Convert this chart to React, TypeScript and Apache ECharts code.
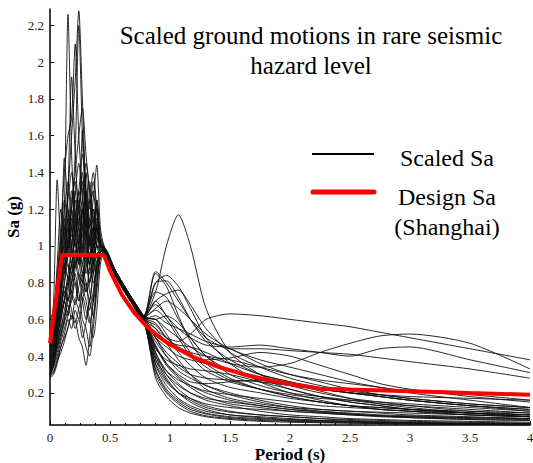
import React, { useEffect, useRef } from "react";
import * as echarts from "echarts";

const periods = [0, 0.03, 0.06, 0.09, 0.12, 0.15, 0.18, 0.21, 0.24, 0.27, 0.3, 0.33, 0.36, 0.39, 0.42, 0.45, 0.55, 0.65, 0.78, 0.88, 0.97, 1.07, 1.17, 1.3, 1.5, 1.75, 2, 2.25, 2.5, 2.75, 3, 3.5, 4];

const scaledSa: number[][] = [
  [0.3,0.38,0.55,0.8,1.2,2.26,1.5,1.1,0.9,1.2,1.0,0.8,0.9,1.1,1.0, 0.98,0.85,0.74,0.62, 0.75,1.0,1.17,1.0,0.66,0.42,0.3,0.24,0.2,0.17,0.15,0.13,0.1,0.08],
  [0.35,0.45,0.7,0.9,1.1,1.3,1.6,1.9,2.28,1.8,1.3,1.1,1.2,1.0,0.95, 0.97,0.84,0.73,0.6, 0.55,0.5,0.48,0.52,0.6,0.63,0.62,0.6,0.58,0.56,0.53,0.5,0.44,0.38],
  [0.4,0.5,0.6,0.75,1.0,1.3,1.92,1.5,1.2,1.4,1.1,0.9,1.05,1.2,1.0, 0.99,0.86,0.75,0.61, 0.6,0.55,0.5,0.45,0.4,0.36,0.34,0.36,0.42,0.47,0.51,0.52,0.47,0.33],
  [0.45,0.55,0.8,1.1,1.4,1.6,1.7,2.1,1.6,1.3,1.1,1.25,0.95,1.1,0.98, 0.96,0.83,0.72,0.6, 0.7,0.62,0.55,0.5,0.46,0.45,0.46,0.44,0.42,0.4,0.44,0.45,0.38,0.31],
  [0.5,0.7,1.36,1.0,0.85,1.2,1.0,1.3,1.1,1.63,1.2,0.9,1.0,1.2,1.0, 0.98,0.84,0.74,0.62, 0.86,0.8,0.7,0.6,0.5,0.44,0.44,0.43,0.42,0.41,0.39,0.37,0.33,0.28],
  [0.32,0.4,0.6,0.9,1.48,1.2,1.0,0.9,1.1,0.95,1.3,1.1,1.25,1.44,1.1, 1.0,0.86,0.75,0.62, 0.8,0.81,0.72,0.6,0.48,0.38,0.3,0.26,0.22,0.2,0.18,0.16,0.13,0.11],
  [0.38,0.42,0.5,0.65,0.8,1.0,1.2,1.5,2.2,1.6,1.2,1.0,0.9,1.1,1.0, 0.97,0.85,0.74,0.61, 0.7,0.74,0.76,0.68,0.55,0.42,0.34,0.28,0.24,0.21,0.19,0.17,0.14,0.12],
  [0.55,0.6,0.75,0.9,1.0,0.95,1.1,1.0,1.2,1.1,1.4,1.2,1.3,1.1,1.0, 0.98,0.83,0.73,0.6, 0.62,0.58,0.55,0.52,0.48,0.44,0.36,0.3,0.26,0.22,0.19,0.17,0.14,0.12],
  [0.3,0.35,0.42,0.5,0.58,0.65,0.7,0.8,0.75,0.6,0.55,0.45,0.6,0.8,0.95, 0.97,0.84,0.74,0.61, 0.58,0.5,0.44,0.4,0.38,0.39,0.42,0.4,0.35,0.3,0.25,0.22,0.18,0.15],
  [0.28,0.3,0.36,0.45,0.5,0.55,0.62,0.6,0.5,0.45,0.35,0.5,0.7,0.9,0.97, 0.98,0.85,0.73,0.6, 0.48,0.4,0.34,0.3,0.28,0.27,0.26,0.24,0.22,0.2,0.18,0.16,0.13,0.1],
  [0.33,0.4,0.5,0.65,0.8,0.9,0.85,0.95,1.05,0.9,0.8,0.7,0.85,1.0,1.0, 0.99,0.85,0.74,0.61, 0.5,0.45,0.4,0.38,0.36,0.33,0.28,0.22,0.18,0.15,0.13,0.11,0.09,0.07],
  [0.42,0.5,0.62,0.8,0.95,1.1,1.2,1.05,0.95,1.15,1.3,1.1,1.0,0.95,0.98, 0.97,0.84,0.73,0.6, 0.45,0.36,0.3,0.26,0.25,0.26,0.27,0.25,0.21,0.17,0.14,0.12,0.09,0.07],
  [0.48,0.55,0.7,0.95,1.15,1.0,1.25,1.35,1.2,1.0,0.9,1.05,1.15,1.05,0.98, 0.98,0.85,0.75,0.62, 0.52,0.48,0.46,0.45,0.42,0.36,0.3,0.26,0.23,0.2,0.18,0.16,0.13,0.11],
  [0.3,0.35,0.48,0.55,0.65,0.75,0.9,0.8,0.7,0.75,0.9,0.85,0.95,1.05,1.0, 0.97,0.84,0.74,0.61, 0.66,0.7,0.66,0.6,0.52,0.44,0.38,0.34,0.3,0.26,0.23,0.2,0.16,0.12],
  [0.36,0.42,0.55,0.72,0.88,1.0,0.9,1.15,1.3,1.5,1.3,1.0,1.1,1.0,0.97, 0.98,0.84,0.73,0.6, 0.4,0.28,0.2,0.15,0.11,0.08,0.07,0.06,0.05,0.045,0.04,0.035,0.03,0.028],
  [0.4,0.48,0.58,0.7,0.78,0.7,0.85,0.98,0.9,1.05,1.2,1.35,1.15,1.0,0.98, 0.97,0.83,0.72,0.59, 0.35,0.24,0.17,0.13,0.1,0.08,0.065,0.055,0.05,0.045,0.04,0.035,0.03,0.025],
  [0.29,0.32,0.38,0.45,0.52,0.6,0.55,0.65,0.6,0.7,0.8,0.65,0.75,0.9,0.96, 0.98,0.85,0.74,0.6, 0.3,0.2,0.14,0.1,0.075,0.06,0.05,0.045,0.04,0.036,0.033,0.03,0.028,0.026],
  [0.45,0.52,0.66,0.85,1.05,1.25,1.4,1.2,1.0,0.85,0.95,0.8,0.9,1.0,0.99, 0.99,0.86,0.75,0.61, 0.42,0.32,0.25,0.2,0.16,0.13,0.1,0.08,0.07,0.06,0.055,0.05,0.045,0.04],
  [0.5,0.6,0.9,1.2,1.05,0.9,0.8,0.95,0.85,0.8,1.0,0.9,0.8,0.9,0.97, 0.98,0.84,0.73,0.6, 0.45,0.35,0.28,0.23,0.18,0.14,0.12,0.1,0.09,0.08,0.07,0.065,0.055,0.05],
  [0.38,0.45,0.52,0.6,0.7,0.82,0.75,0.7,0.85,0.7,0.6,0.7,0.85,0.95,0.98, 0.97,0.85,0.74,0.61, 0.38,0.3,0.24,0.2,0.17,0.15,0.13,0.11,0.095,0.085,0.075,0.07,0.06,0.055],
  [0.34,0.4,0.46,0.55,0.62,0.7,0.8,0.9,0.82,0.78,0.7,0.6,0.5,0.65,0.9, 0.96,0.84,0.73,0.6, 0.5,0.4,0.32,0.28,0.24,0.2,0.16,0.13,0.11,0.1,0.09,0.08,0.07,0.06],
  [0.6,0.65,0.8,1.0,1.2,1.35,1.1,1.0,0.95,1.1,1.0,1.15,1.05,0.95,0.97, 0.98,0.85,0.75,0.62, 0.55,0.47,0.38,0.3,0.22,0.17,0.14,0.12,0.11,0.1,0.095,0.09,0.08,0.07],
  [0.31,0.36,0.44,0.52,0.6,0.68,0.6,0.7,0.65,0.55,0.45,0.4,0.55,0.75,0.94, 0.97,0.83,0.72,0.59, 0.33,0.22,0.16,0.12,0.09,0.07,0.06,0.052,0.047,0.043,0.04,0.038,0.035,0.033],
  [0.43,0.5,0.6,0.75,0.9,1.05,1.2,1.4,1.6,1.75,1.5,1.3,1.1,1.0,0.99, 0.99,0.85,0.74,0.61, 0.6,0.52,0.42,0.35,0.28,0.23,0.2,0.17,0.15,0.13,0.11,0.1,0.09,0.08],
  [0.37,0.44,0.55,0.68,0.75,0.8,1.0,1.15,1.0,0.9,1.1,1.25,1.4,1.2,1.0, 0.98,0.84,0.74,0.61, 0.65,0.6,0.5,0.4,0.32,0.26,0.22,0.19,0.17,0.16,0.15,0.14,0.12,0.1],
  [0.52,0.58,0.72,0.82,0.95,1.1,0.95,0.88,1.0,1.2,1.05,0.95,1.1,1.25,1.05, 1.0,0.86,0.75,0.62, 0.75,0.72,0.6,0.5,0.4,0.3,0.24,0.2,0.18,0.16,0.14,0.13,0.11,0.09],
  [0.29,0.34,0.4,0.48,0.55,0.62,0.72,0.68,0.78,0.85,0.75,0.8,0.92,0.85,0.95, 0.97,0.84,0.73,0.61, 0.8,0.84,0.78,0.66,0.5,0.36,0.26,0.2,0.16,0.13,0.11,0.1,0.08,0.07],
  [0.46,0.55,0.68,0.78,0.9,0.82,0.9,1.05,1.15,1.0,0.85,0.95,1.05,1.15,1.02, 0.99,0.85,0.74,0.6, 0.57,0.5,0.45,0.42,0.4,0.38,0.34,0.3,0.27,0.25,0.23,0.21,0.19,0.16],
  [0.33,0.38,0.45,0.52,0.6,0.72,0.65,0.55,0.6,0.5,0.58,0.7,0.62,0.8,0.95, 0.97,0.83,0.72,0.59, 0.36,0.26,0.2,0.17,0.14,0.12,0.11,0.1,0.09,0.08,0.075,0.07,0.065,0.06],
  [0.41,0.48,0.6,0.72,0.85,0.95,1.1,1.3,1.45,1.25,1.1,0.95,1.0,1.1,1.0, 0.98,0.84,0.73,0.6, 0.28,0.18,0.12,0.09,0.07,0.055,0.045,0.04,0.037,0.035,0.033,0.031,0.03,0.028],
  [0.35,0.4,0.5,0.62,0.7,0.78,0.9,1.02,0.92,0.8,0.88,0.95,0.85,0.92,0.97, 0.98,0.85,0.74,0.61, 0.44,0.38,0.35,0.33,0.32,0.3,0.26,0.22,0.18,0.15,0.13,0.11,0.09,0.08],
  [0.56,0.62,0.85,1.05,1.25,1.1,0.95,1.05,1.2,1.35,1.15,1.0,1.1,1.05,1.0, 0.99,0.86,0.75,0.62, 0.6,0.62,0.58,0.5,0.4,0.32,0.27,0.24,0.22,0.2,0.19,0.18,0.17,0.16],
  [0.3,0.36,0.5,0.65,0.75,0.7,0.8,0.9,1.0,1.1,1.2,1.05,0.95,1.0,0.98, 0.97,0.84,0.73,0.6, 0.4,0.32,0.27,0.24,0.21,0.19,0.17,0.15,0.13,0.12,0.11,0.1,0.08,0.07],
  [0.39,0.46,0.56,0.64,0.72,0.85,0.98,1.1,1.25,1.1,0.95,1.05,0.9,0.95,0.98, 0.98,0.85,0.74,0.61, 0.85,0.78,0.62,0.48,0.36,0.28,0.22,0.18,0.15,0.13,0.12,0.11,0.09,0.08],
  [0.44,0.5,0.65,0.8,0.95,1.15,1.05,1.25,1.1,0.95,1.15,1.0,1.2,1.1,1.0, 0.98,0.85,0.74,0.61, 0.42,0.3,0.22,0.17,0.13,0.1,0.08,0.07,0.06,0.05,0.045,0.04,0.035,0.03],
  [0.31,0.37,0.46,0.58,0.7,0.62,0.75,0.85,0.7,0.8,0.95,0.75,0.7,0.85,0.97, 0.97,0.84,0.73,0.6, 0.5,0.42,0.36,0.3,0.24,0.19,0.15,0.12,0.1,0.085,0.075,0.065,0.055,0.05],
  [0.53,0.58,0.68,0.9,1.1,0.98,1.15,1.05,1.3,1.2,1.05,1.15,1.35,1.2,1.02, 0.99,0.86,0.75,0.62, 0.68,0.62,0.52,0.42,0.34,0.27,0.22,0.18,0.15,0.13,0.12,0.11,0.1,0.09],
  [0.29,0.31,0.37,0.42,0.48,0.56,0.62,0.58,0.66,0.72,0.65,0.58,0.7,0.88,0.95, 0.97,0.83,0.72,0.59, 0.32,0.21,0.15,0.11,0.085,0.065,0.055,0.048,0.043,0.04,0.037,0.034,0.031,0.029],
  [0.47,0.54,0.75,0.95,0.88,1.05,1.3,1.15,1.05,1.25,1.45,1.3,1.15,1.25,1.05, 0.98,0.85,0.74,0.61, 0.46,0.36,0.29,0.24,0.2,0.16,0.13,0.11,0.1,0.09,0.08,0.075,0.065,0.06],
  [0.36,0.43,0.52,0.62,0.7,0.8,0.72,0.88,0.95,0.85,0.75,0.88,1.0,1.12,1.02, 0.98,0.84,0.73,0.6, 0.38,0.27,0.2,0.16,0.12,0.095,0.08,0.07,0.06,0.055,0.05,0.045,0.04,0.035],
];

const designPeriods = [0, 0.1, 0.45, 0.5, 0.6, 0.7, 0.8, 0.9, 1.0, 1.2, 1.4, 1.6, 1.8, 2.0, 2.25, 2.5, 3.0, 3.5, 4.0];
const designSa = [0.47, 0.95, 0.95, 0.864, 0.733, 0.638, 0.566, 0.509, 0.463, 0.393, 0.342, 0.303, 0.273, 0.248, 0.223, 0.218, 0.209, 0.199, 0.19];

const yTicks = [0.2, 0.4, 0.6, 0.8, 1, 1.2, 1.4, 1.6, 1.8, 2, 2.2];
const titleLines = ["Scaled ground motions in rare seismic", "hazard level"];
const legendScaled = "Scaled Sa";
const legendDesign = ["Design Sa", "(Shanghai)"];

const SERIF = "'Liberation Serif', 'Times New Roman', serif";

export default function App() {
  const ref = useRef<HTMLDivElement>(null);
  useEffect(() => {
    if (!ref.current) return;
    const chart = echarts.init(ref.current, undefined, { renderer: "svg" });
    const series: any[] = scaledSa.map((row) => ({
      name: "Scaled Sa",
      type: "line",
      data: periods.map((t, i) => [t, row[i]]),
      showSymbol: false,
      smooth: 0.25,
      silent: true,
      lineStyle: { color: "#111", width: 0.9 },
      z: 2,
    }));
    series.push({
      name: "Design Sa",
      type: "line",
      data: designPeriods.map((t, i) => [t, designSa[i]]),
      showSymbol: false,
      silent: true,
      lineStyle: { color: "#ff0000", width: 4 },
      z: 3,
    });
    const txt = (x: number, y: number, text: string, size: number) => ({
      type: "text",
      x,
      y,
      style: { text, fontFamily: SERIF, fontSize: size, fill: "#000", align: "center", verticalAlign: "middle" },
    });
    chart.setOption({
      animation: false,
      backgroundColor: "#fff",
      grid: { left: 50, right: 3, top: 9, bottom: 38, outerBoundsMode: "none", containLabel: false },
      xAxis: {
        type: "value",
        min: 0,
        max: 4,
        interval: 0.5,
        name: "Period (s)",
        nameLocation: "middle",
        nameGap: 21,
        nameMoveOverlap: false,
        nameTextStyle: { fontFamily: SERIF, fontWeight: "bold", fontSize: 17, color: "#000" },
        axisLine: { show: true, lineStyle: { color: "#000", width: 1.5 } },
        axisTick: { show: true, inside: true, length: 4, lineStyle: { color: "#000" } },
        minorTick: { show: true, splitNumber: 4, length: 2, lineStyle: { color: "#000" } },
        axisLabel: { fontFamily: SERIF, fontSize: 13, color: "#222", margin: 6 },
        splitLine: { show: false },
      },
      yAxis: {
        type: "value",
        min: 0.025,
        max: 2.29,
        name: "Sa (g)",
        nameLocation: "middle",
        nameGap: 28,
        nameMoveOverlap: false,
        nameTextStyle: { fontFamily: SERIF, fontWeight: "bold", fontSize: 17, color: "#000" },
        axisLine: { show: true, lineStyle: { color: "#000", width: 1.5 } },
        axisTick: { show: true, inside: true, length: 4, customValues: yTicks, lineStyle: { color: "#000" } },
        axisLabel: { fontFamily: SERIF, fontSize: 13, color: "#222", margin: 6, customValues: yTicks },
        splitLine: { show: false },
      },
      series,
      graphic: [
        txt(311, 35, titleLines[0], 25),
        txt(311, 65, titleLines[1], 25),
        { type: "line", shape: { x1: 312, y1: 154, x2: 374, y2: 154 }, style: { stroke: "#000", lineWidth: 2 } },
        txt(447, 158, legendScaled, 24),
        { type: "line", shape: { x1: 313, y1: 192, x2: 374, y2: 192 }, style: { stroke: "#ff0000", lineWidth: 5, lineCap: "round" } },
        txt(447, 197, legendDesign[0], 24),
        txt(447, 227, legendDesign[1], 24),
      ],
    });
    return () => chart.dispose();
  }, []);
  return <div ref={ref} style={{ position: "fixed", left: 0, top: 0, width: 533, height: 463 }} />;
}
